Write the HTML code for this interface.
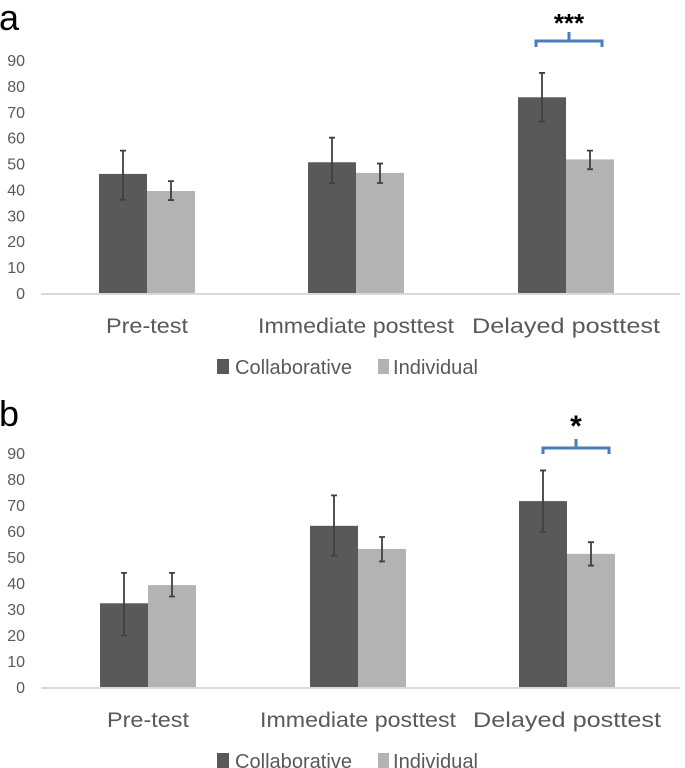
<!DOCTYPE html>
<html><head><meta charset="utf-8"><style>
body{margin:0;background:#fff;width:685px;height:768px;overflow:hidden}
svg{display:block;font-family:"Liberation Sans",sans-serif}
</style></head><body>
<svg id="chart" width="685" height="768"></svg>
<script>
const categories=["Pre-test","Immediate posttest","Delayed posttest"];
const ticks=[0,10,20,30,40,50,60,70,80,90];
const aCollab=[46,50.5,75.6];
const aCollabLo=[36,42.4,66.2];
const aCollabHi=[55,60,85];
const aIndiv=[39.4,46.4,51.6];
const aIndivLo=[35.9,42.5,47.8];
const aIndivHi=[43.2,50,55];
const bCollab=[32.2,62,71.5];
const bCollabLo=[19.8,50.5,59.7];
const bCollabHi=[43.9,73.7,83.3];
const bIndiv=[39.2,53.1,51.2];
const bIndivLo=[34.8,48.3,46.7];
const bIndivHi=[43.9,57.7,55.7];
const panels=[
 {letter:"a",y0:293,y90:60,centers:[147,356,566],c:aCollab,cl:aCollabLo,ch:aCollabHi,i:aIndiv,il:aIndivLo,ih:aIndivHi,stars:"***",brY:41,starY:32,starSize:26},
 {letter:"b",y0:687,y90:453,centers:[148,358,567],c:bCollab,cl:bCollabLo,ch:bCollabHi,i:bIndiv,il:bIndivLo,ih:bIndivHi,stars:"*",brY:448,starY:436,starSize:30}
];
const NS="http://www.w3.org/2000/svg";
const svg=document.getElementById('chart');
function mk(t,a,p){const e=document.createElementNS(NS,t);for(const k in a)e.setAttribute(k,a[k]);(p||svg).appendChild(e);return e;}
panels.forEach((P,pi)=>{
 const g=mk('g',{});
 
 
 const y=v=>P.y0-(P.y0-P.y90)*v/90;
 const L=mk('text',{x:-1,y:P.y0-263+(pi?2:0),'font-size':36,fill:'#000'},g);L.textContent=P.letter;
 
 
 ticks.forEach(t=>{const e=mk('text',{x:25,y:y(t)+6,'font-size':16,fill:'#595959','text-anchor':'end'},g);e.textContent=t;
  
  });
 const ax=mk('line',{x1:41,x2:680,y1:P.y0+1,y2:P.y0+1,stroke:'#d9d9d9','stroke-width':2},g);
 
 
 const bw=48;
 P.centers.forEach((cx,k)=>{
  const b1=mk('rect',{x:cx-bw,y:y(P.c[k]),width:bw,height:P.y0-y(P.c[k]),fill:'#595959'},g);
  
  
  const b2=mk('rect',{x:cx,y:y(P.i[k]),width:bw,height:P.y0-y(P.i[k]),fill:'#b3b3b3'},g);
  
  
  [[cx-bw/2,P.cl[k],P.ch[k]],[cx+bw/2,P.il[k],P.ih[k]]].forEach(([ex,lo,hi])=>{
   const eg=mk('path',{d:`M${ex},${y(lo)}V${y(hi)}M${ex-3},${y(lo)}h6M${ex-3},${y(hi)}h6`,stroke:'#404040','stroke-width':1.8,fill:'none'},g);
   
   
  });
  const tl=mk('text',{x:cx,y:P.y0+40,'font-size':21,fill:'#595959','text-anchor':'middle',textLength:[82,196,188][k],lengthAdjust:'spacingAndGlyphs'},g);tl.textContent=categories[k];
  
  
 });
 const bx=P.centers[2]+3+(pi?6:0), by=P.brY;
 const br=mk('path',{d:`M${bx-33},${by+6}v-6h66v6M${bx},${by}v-9`,stroke:'#4a7ebb','stroke-width':3,fill:'none'},g);
 
 
 const st=mk('text',{x:bx,y:P.starY,'font-size':P.starSize,'font-weight':'bold',fill:'#000','text-anchor':'middle'},g);st.textContent=P.stars;
 
 
 const ly=P.y0+81;
 const lg=mk('g',{},g);
 
 
 mk('rect',{x:217,y:ly-15,width:12,height:15,fill:'#595959'},lg);
 const t1=mk('text',{x:235,y:ly,'font-size':20,fill:'#595959',textLength:117,lengthAdjust:'spacingAndGlyphs'},lg);t1.textContent='Collaborative';
 
 
 mk('rect',{x:378,y:ly-15,width:11,height:15,fill:'#b3b3b3'},lg);
 const t2=mk('text',{x:393,y:ly,'font-size':20,fill:'#595959',textLength:85,lengthAdjust:'spacingAndGlyphs'},lg);t2.textContent='Individual';
 
 
});
</script>
</body></html>
